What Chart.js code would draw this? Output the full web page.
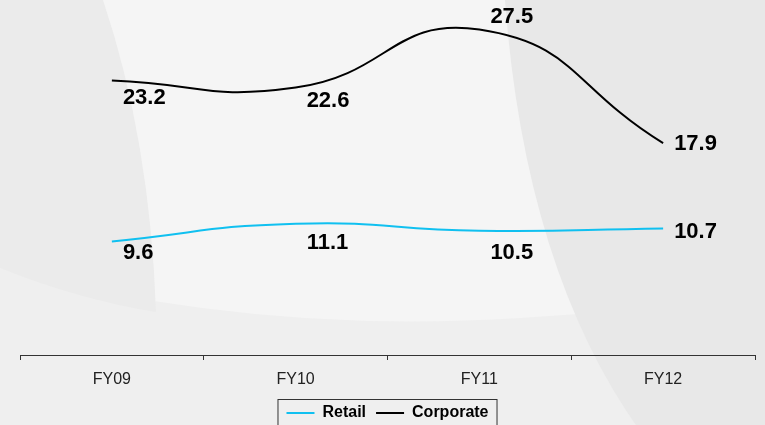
<!DOCTYPE html>
<html>
<head>
<meta charset="utf-8">
<script src="https://cdn.jsdelivr.net/npm/chart.js@4/dist/chart.umd.min.js"></script>
<style>
    html, body { margin: 0; padding: 0; overflow: hidden; background: #f5f5f5; }
    #wrap { width: 765px; height: 431px; }
</style>
</head>
<body>
<div id="wrap"><canvas id="lineChart" width="765" height="431"></canvas></div>
<script>
// Data
const years = ['FY09', 'FY10', 'FY11', 'FY12'];
const retail = [9.6, 11.1, 10.5, 10.7];
const corporate = [23.2, 22.6, 27.5, 17.9];

// Label offsets (px) from each point, left aligned
const retailLabelDy = [12, 19, 22, 4];
const corporateLabelDy = [17, 13, -13, 1];

// Soft grey shapes behind the chart
const backdrop = {
    id: 'backdrop',
    beforeDraw(chart) {
        const ctx = chart.ctx;
        ctx.save();
        ctx.fillStyle = '#f5f5f5';
        ctx.fillRect(0, 0, chart.width, chart.height);

        ctx.fillStyle = '#efefef';
        ctx.beginPath();
        ctx.moveTo(0, 268);
        ctx.quadraticCurveTo(250, 335, 520, 318);
        ctx.quadraticCurveTo(640, 310, chart.width, 300);
        ctx.lineTo(chart.width, chart.height);
        ctx.lineTo(0, chart.height);
        ctx.closePath();
        ctx.fill();

        ctx.fillStyle = '#ebebeb';
        ctx.beginPath();
        ctx.moveTo(0, 0);
        ctx.lineTo(103, 0);
        ctx.quadraticCurveTo(150, 140, 156, 312);
        ctx.quadraticCurveTo(80, 300, 0, 268);
        ctx.closePath();
        ctx.fill();

        ctx.fillStyle = '#e8e8e8';
        ctx.beginPath();
        ctx.moveTo(505, 0);
        ctx.quadraticCurveTo(525, 270, 640, chart.height);
        ctx.lineTo(chart.width, chart.height);
        ctx.lineTo(chart.width, 0);
        ctx.closePath();
        ctx.fill();
        ctx.restore();
    }
};

// Value labels next to each point
const valueLabels = {
    id: 'valueLabels',
    afterDatasetsDraw(chart) {
        const ctx = chart.ctx;
        ctx.save();
        ctx.font = 'bold 22px Arial, "Liberation Sans", sans-serif';
        ctx.fillStyle = '#000';
        ctx.textAlign = 'left';
        ctx.textBaseline = 'middle';
        chart.data.datasets.forEach((ds, i) => {
            const meta = chart.getDatasetMeta(i);
            meta.data.forEach((pt, j) => {
                ctx.fillText(ds.data[j].toFixed(1), pt.x + 11, pt.y + ds.labelDy[j]);
            });
        });
        ctx.restore();
    }
};

// Border around the legend
const legendFrame = {
    id: 'legendFrame',
    afterDraw(chart) {
        const boxes = chart.legend.legendHitBoxes;
        if (!boxes || !boxes.length) return;
        const first = boxes[0];
        const last = boxes[boxes.length - 1];
        const ctx = chart.ctx;
        ctx.save();
        ctx.strokeStyle = '#333';
        ctx.lineWidth = 1;
        ctx.strokeRect(first.left - 8.5, first.top - 5.5, last.left + last.width - first.left + 17, first.height + 30);
        ctx.restore();
    }
};

new Chart(document.getElementById('lineChart'), {
    type: 'line',
    data: {
        labels: years,
        datasets: [{
            label: 'Retail',
            data: retail,
            borderColor: '#10c0f0',
            backgroundColor: '#10c0f0',
            borderWidth: 2,
            pointRadius: 0,
            tension: 0.5,
            labelDy: retailLabelDy
        }, {
            label: 'Corporate',
            data: corporate,
            borderColor: '#000',
            backgroundColor: '#000',
            borderWidth: 2,
            pointRadius: 0,
            tension: 0.5,
            labelDy: corporateLabelDy
        }]
    },
    options: {
        responsive: false,
        animation: false,
        layout: { padding: { left: 20, right: 10, top: 0, bottom: 0 } },
        plugins: {
            tooltip: { enabled: false },
            legend: {
                position: 'bottom',
                labels: {
                    boxWidth: 28,
                    boxHeight: 2,
                    padding: 10,
                    color: '#000',
                    font: { family: 'Arial, "Liberation Sans", sans-serif', size: 16, weight: 'bold' },
                    generateLabels(chart) {
                        return chart.data.datasets.map((ds, i) => ({
                            text: ds.label,
                            fillStyle: ds.borderColor,
                            strokeStyle: ds.borderColor,
                            lineWidth: 0,
                            hidden: false,
                            datasetIndex: i
                        }));
                    }
                }
            }
        },
        scales: {
            x: {
                offset: true,
                grid: {
                    offset: true,
                    drawOnChartArea: false,
                    drawTicks: true,
                    tickLength: 5,
                    color: '#333'
                },
                border: { display: true, color: '#333', width: 1 },
                ticks: {
                    padding: 10,
                    color: '#222',
                    font: { family: 'Arial, "Liberation Sans", sans-serif', size: 16 }
                },
                afterFit(scale) { scale.height = 40; }
            },
            y: {
                display: false,
                min: 0,
                max: 30
            }
        }
    },
    plugins: [backdrop, valueLabels, legendFrame]
});
</script>
</body>
</html>
